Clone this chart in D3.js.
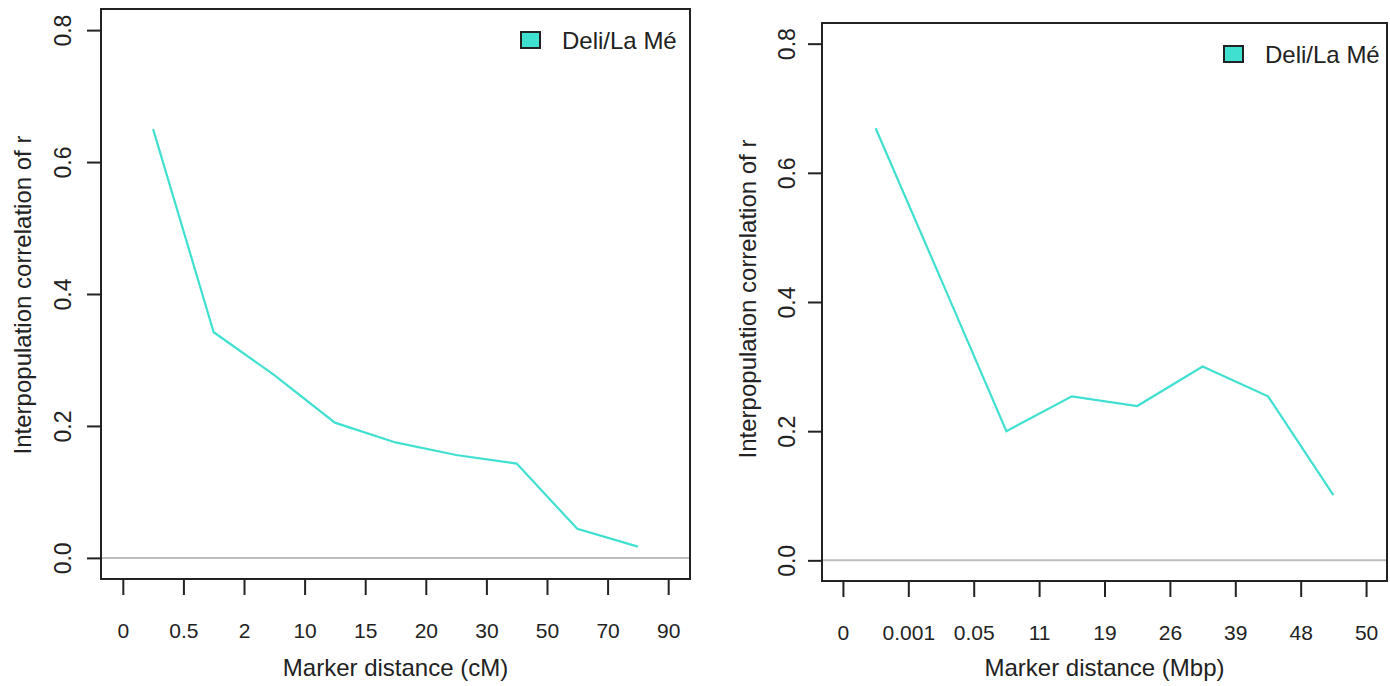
<!DOCTYPE html>
<html>
<head>
<meta charset="utf-8">
<script src="https://cdn.jsdelivr.net/npm/d3@7"></script>
<style>
  html, body { margin: 0; padding: 0; background: #fff; }
  svg text { font-family: "Liberation Sans", Arial, sans-serif; fill: #222; }
</style>
</head>
<body>
<svg id="chart" width="1390" height="686"></svg>
<script>
// left panel: marker distance in cM
const cmTicks = ["0", "0.5", "2", "10", "15", "20", "30", "50", "70", "90"];
const cmR = [0.650, 0.342, 0.277, 0.205, 0.175, 0.156, 0.143, 0.044, 0.017];

// right panel: marker distance in Mbp
const mbpTicks = ["0", "0.001", "0.05", "11", "19", "26", "39", "48", "50"];
const mbpR = [0.669, 0.435, 0.200, 0.254, 0.239, 0.300, 0.254, 0.101];

const yTicks = [0, 0.2, 0.4, 0.6, 0.8];
const seriesName = "Deli/La Mé";
const lineColor = "#40E0D0";

const svg = d3.select("#chart");

function drawPanel(opt) {
    const g = svg.append("g");
    const n = opt.ticks.length - 1;
    // R style 4% axis expansion
    const xScale = d3.scaleLinear()
        .domain([-0.04 * n, n * 1.04])
        .range([opt.left, opt.right]);
    const yScale = d3.scaleLinear()
        .domain([-0.032, 0.832])
        .range([opt.bottom, opt.top]);

    // zero reference line
    g.append("line")
        .attr("x1", opt.left).attr("x2", opt.right)
        .attr("y1", yScale(0)).attr("y2", yScale(0))
        .attr("stroke", "#bdbdbd").attr("stroke-width", 2);

    // data line, points sit between the ticks
    g.append("path")
        .datum(opt.values)
        .attr("fill", "none")
        .attr("stroke", lineColor)
        .attr("stroke-width", 2.2)
        .attr("d", d3.line()
            .x((d, i) => xScale(i + 0.5))
            .y(d => yScale(d)));

    // box
    g.append("rect")
        .attr("x", opt.left).attr("y", opt.top)
        .attr("width", opt.right - opt.left)
        .attr("height", opt.bottom - opt.top)
        .attr("fill", "none")
        .attr("stroke", "#222").attr("stroke-width", 2);

    // x axis ticks and labels
    const xAxis = d3.axisBottom(xScale)
        .tickValues(d3.range(opt.ticks.length))
        .tickFormat(i => opt.ticks[i])
        .tickSize(15)
        .tickPadding(28);
    const gx = g.append("g")
        .attr("transform", `translate(0,${opt.bottom + 1})`)
        .call(xAxis);
    gx.select(".domain").remove();
    gx.selectAll(".tick line").attr("stroke", "#222").attr("stroke-width", 2);
    gx.selectAll(".tick text")
        .attr("fill", "#222")
        .style("font-size", "21px");

    // y axis ticks and rotated labels
    const yAxis = d3.axisLeft(yScale)
        .tickValues(yTicks)
        .tickFormat(d3.format(".1f"))
        .tickSize(14)
        .tickPadding(0);
    const gy = g.append("g")
        .attr("transform", `translate(${opt.left},0)`)
        .call(yAxis);
    gy.select(".domain").remove();
    gy.selectAll(".tick line").attr("stroke", "#222").attr("stroke-width", 2);
    gy.selectAll(".tick text")
        .attr("fill", "#222")
        .attr("x", null).attr("dy", null)
        .attr("text-anchor", "middle")
        .attr("transform", `translate(${opt.yLabelX},0) rotate(-90)`)
        .attr("y", 0)
        .attr("dominant-baseline", "central")
        .style("font-size", "23px");

    // axis titles
    g.append("text")
        .attr("x", (xScale(0) + xScale(n)) / 2)
        .attr("y", 676)
        .attr("text-anchor", "middle")
        .style("font-size", "24px")
        .text(opt.xTitle);

    g.append("text")
        .attr("transform", `translate(${opt.yTitleX},${opt.yTitleY}) rotate(-90)`)
        .attr("text-anchor", "middle")
        .attr("dominant-baseline", "central")
        .style("font-size", "24px")
        .text("Interpopulation correlation of r");

    // legend
    g.append("rect")
        .attr("x", opt.legX).attr("y", opt.legY - 8)
        .attr("width", 19).attr("height", 16)
        .attr("fill", lineColor)
        .attr("stroke", "#222").attr("stroke-width", 2);
    g.append("text")
        .attr("x", opt.legX + 41).attr("y", opt.legY)
        .attr("dominant-baseline", "central")
        .style("font-size", "24px")
        .text(seriesName);
}

drawPanel({
    ticks: cmTicks, values: cmR,
    left: 101, right: 690, top: 9, bottom: 579,
    yLabelX: -38, yTitleX: 22, yTitleY: 295,
    xTitle: "Marker distance (cM)",
    legX: 521, legY: 40
});

drawPanel({
    ticks: mbpTicks, values: mbpR,
    left: 822, right: 1387, top: 23, bottom: 581,
    yLabelX: -35, yTitleX: 747, yTitleY: 299,
    xTitle: "Marker distance (Mbp)",
    legX: 1224, legY: 54
});
</script>
</body>
</html>
